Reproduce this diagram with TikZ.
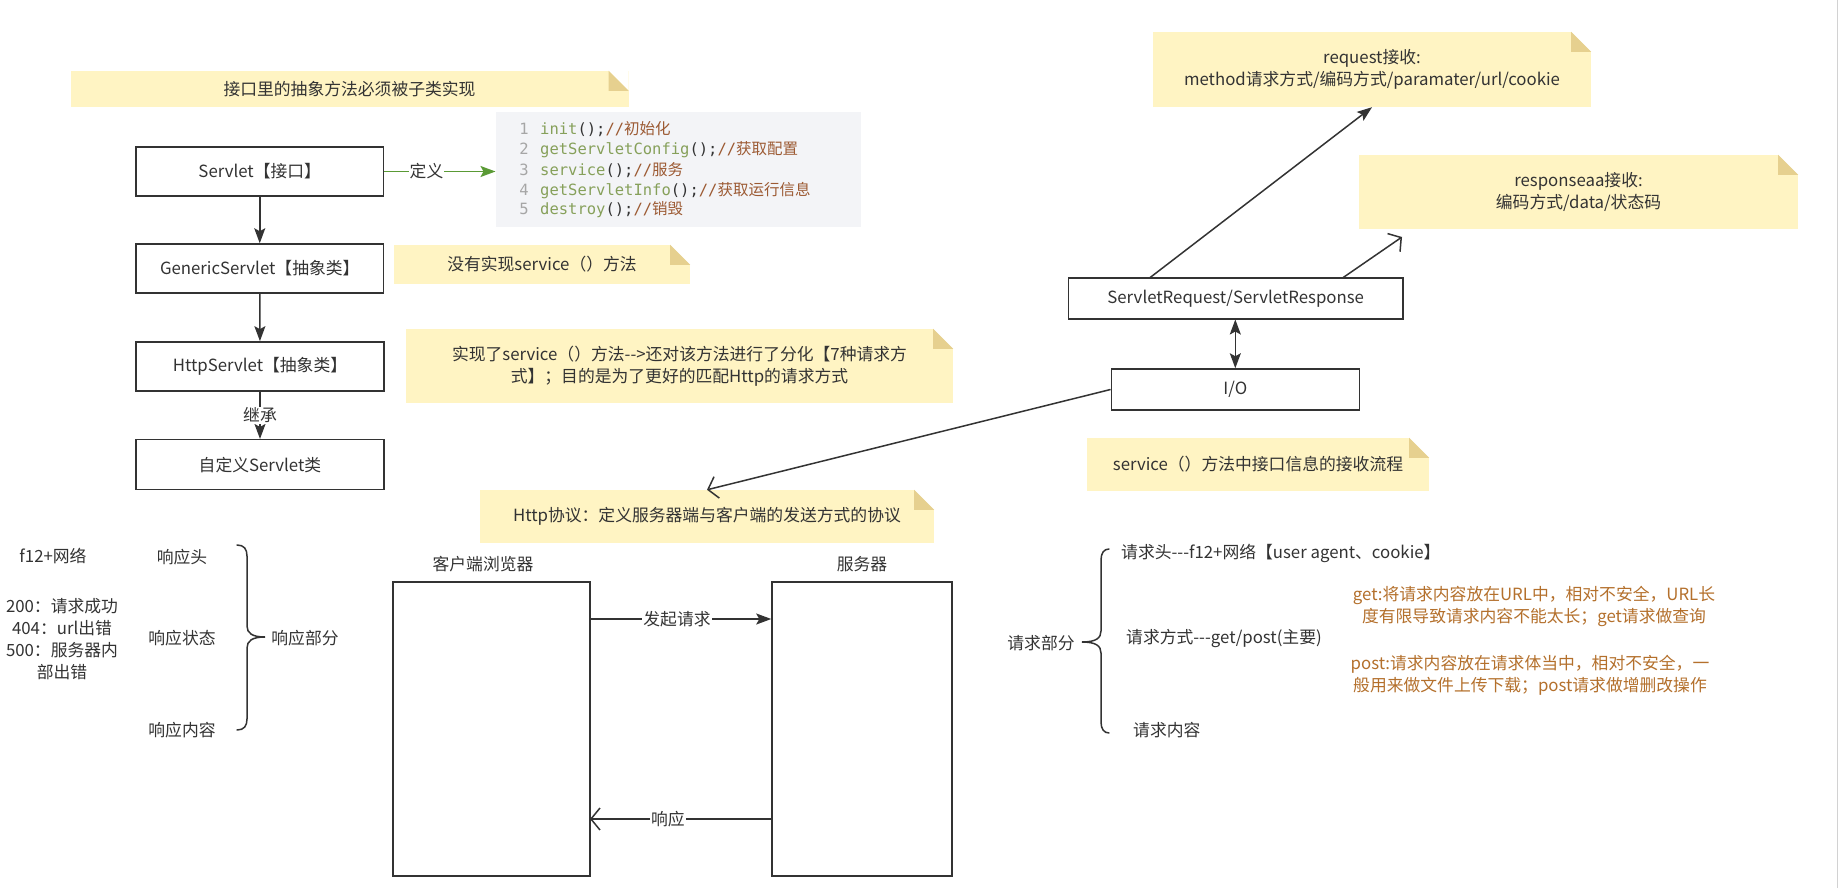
\documentclass[tikz,border=0pt]{standalone}
\usepackage{fontspec}
\setmainfont{Noto Sans CJK SC}
\newfontfamily\codefont{DejaVu Sans Mono}
\usetikzlibrary{arrows.meta,calc}
\definecolor{txt}{HTML}{333333}
\definecolor{notey}{HTML}{FFF4C3}
\definecolor{foldc}{HTML}{E6D08F}
\definecolor{defg}{HTML}{5A9A35}
\definecolor{codebg}{HTML}{F3F4F7}
\definecolor{codeg}{HTML}{86A05A}
\definecolor{codeb}{HTML}{9C5A33}
\definecolor{codek}{HTML}{333333}
\definecolor{lnum}{HTML}{A6A6A6}
\definecolor{orng}{HTML}{B4702C}
\newcommand\mycodeln[2]{{\codefont\color{codeg}#1\color{codek}();\color{codeb}//}{\color{codeb}#2}}
\newcommand\mydash{-\kern0pt}
\newcommand\myfold[1]{%
  \fill[white] ($(#1.north east)+(-20,0)$) -- (#1.north east) -- ($(#1.north east)+(0,20)$) -- cycle;
  \fill[foldc] ($(#1.north east)+(-20,0)$) -- ($(#1.north east)+(-20,20)$) -- ($(#1.north east)+(0,20)$) -- cycle;}
\tikzset{
  base/.style={font=\fontsize{16.8}{22}\selectfont, text=txt, inner sep=0pt},
  box/.style={base, draw=txt, line width=1.5pt, fill=white},
  note/.style={base, fill=notey, align=center},
  lbl/.style={base, fill=white, inner sep=1pt},
  arr/.style={draw=txt, line width=1.5pt, -{Stealth[length=15pt,width=11pt,inset=3pt]}},
  darr/.style={draw=txt, line width=1.5pt, {Stealth[length=15pt,width=11pt,inset=3pt]}-{Stealth[length=15pt,width=11pt,inset=3pt]}},
  oarr/.style={draw=txt, line width=1.5pt, -{Straight Barb[length=9pt,width=22pt]}},
  garr/.style={draw=defg, line width=1.5pt, -{Stealth[length=15pt,width=11pt,inset=3pt]}},
  lnumst/.style={base, anchor=base east, text=lnum, font=\codefont\fontsize{15.5}{18}\selectfont},
  codest/.style={base, anchor=base west, font=\fontsize{15.5}{18}\selectfont},
  brace/.style={draw=txt, line width=1.5pt, line cap=round}
}
\begin{document}
\begin{tikzpicture}[x=1pt,y=-1pt]
\useasboundingbox (0,0) rectangle (1838,888);
\fill[white] (0,0) rectangle (1838,888);
\draw[gray!35, line width=1pt] (1837.5,0) -- (1837.5,888);

% notes
\node[note, minimum width=558, minimum height=36] (na) at (349.5,89) {接口里的抽象方法必须被子类实现};
\myfold{na}
\node[note, minimum width=296, minimum height=39] (nb) at (542,264.5) {没有实现service（）方法};
\myfold{nb}
\node[note, minimum width=547, minimum height=74] (nc) at (679.5,366) {实现了service（）方法\mydash\mydash>还对该方法进行了分化【7种请求方\\式】；目的是为了更好的匹配Http的请求方式};
\myfold{nc}
\node[note, minimum width=454, minimum height=53] (nd) at (707,516.5) {Http协议：定义服务器端与客户端的发送方式的协议};
\myfold{nd}
\node[note, minimum width=438, minimum height=75] (ne) at (1372,69.5) {request接收:\\method请求方式/编码方式/paramater/url/cookie};
\myfold{ne}
\node[note, minimum width=439, minimum height=74] (nf) at (1578.5,192) {responseaa接收:\\编码方式/data/状态码};
\myfold{nf}
\node[note, minimum width=342, minimum height=53] (ng) at (1258,464.5) {service（）方法中接口信息的接收流程};
\myfold{ng}

% left class chain
\node[box, minimum width=247.5, minimum height=49] (servlet) at (259.75,171.5) {Servlet【接口】};
\node[box, minimum width=247.5, minimum height=49] (generic) at (259.75,268.5) {GenericServlet【抽象类】};
\node[box, minimum width=248, minimum height=49] (http) at (260,366.4) {HttpServlet【抽象类】};
\node[box, minimum width=248, minimum height=50] (custom) at (260,464.7) {自定义Servlet类};
\draw[arr] (servlet) -- (generic);
\draw[arr] (generic) -- (http);
\draw[arr] (http) -- (custom) node[lbl, midway] {继承};

% code block
\node[fill=codebg, minimum width=365.3, minimum height=114.7, inner sep=0pt] (code) at (678.35,169.35) {};
\node[lnumst] (l1) at (529,134.5) {1};
\node[lnumst] (l2) at (529,154.8) {2};
\node[lnumst] (l3) at (529,175.5) {3};
\node[lnumst] (l4) at (529,195.5) {4};
\node[lnumst] (l5) at (529,214.8) {5};
\node[codest] (c1) at (540,134.5) {\mycodeln{init}{初始化}};
\node[codest] (c2) at (540,154.8) {\mycodeln{getServletConfig}{获取配置}};
\node[codest] (c3) at (540,175.5) {\mycodeln{service}{服务}};
\node[codest] (c4) at (540,195.5) {\mycodeln{getServletInfo}{获取运行信息}};
\node[codest] (c5) at (540,214.8) {\mycodeln{destroy}{销毁}};
\draw[garr] (servlet.east) -- (servlet.east -| code.west) node[lbl, pos=0.38] {定义};

% right: request/response
\node[box, minimum width=334.2, minimum height=40.7] (sr) at (1235.7,298.4) {ServletRequest/ServletResponse};
\node[box, minimum width=248, minimum height=41] (io) at (1235.3,389.5) {I/O};
\draw[darr] (sr.south -| io.north) -- (io.north);
\coordinate (reqs) at (1149.5,278);
\coordinate (resps) at (1342.5,278);
\coordinate (respe) at (1402,237);
\draw[arr] (reqs) -- (ne.south);
\draw[oarr] (resps) -- (respe);
\draw[oarr] (io.west) -- (nd.north);

% client / server
\node[box, minimum width=197, minimum height=294] (client) at (491.5,729) {};
\node[box, minimum width=180, minimum height=294] (server) at (862,729) {};
\node[base] (clientl) at (483,564) {客户端浏览器};
\node[base] (serverl) at (862,564) {服务器};
\coordinate (q1) at (590,619);
\coordinate (q2) at (590,819);
\draw[arr] (q1) -- (q1 -| server.west) node[lbl, pos=0.48] {发起请求};
\draw[oarr] (q2 -| server.west) -- (q2) node[lbl, pos=0.57] {响应};

% response part (left)
\node[base] (f12) at (53,556) {f12+网络};
\node[base, align=center] (codes) at (62,639.5) {200：请求成功\\404：url出错\\500：服务器内\\部出错};
\node[base] (rh) at (182,557) {响应头};
\node[base] (rs) at (182,638) {响应状态};
\node[base] (rc) at (182,730) {响应内容};
\node[base] (rp) at (305,638) {响应部分};
\draw[brace] (237,545) .. controls (244,545) and (247,549) .. (247,556) -- (247,626) .. controls (247,633) and (252,637) .. (265,637) .. controls (252,637) and (247,641) .. (247,648) -- (247,719) .. controls (247,726) and (244,730) .. (237,730);

% request part (right)
\node[base] (qp) at (1041,643) {请求部分};
\draw[brace] (1109,549) .. controls (1104,549) and (1101,553) .. (1101,560) -- (1101,631) .. controls (1101,638) and (1096,642) .. (1082,642) .. controls (1096,642) and (1101,646) .. (1101,653) -- (1101,722) .. controls (1101,729) and (1104,733) .. (1109,733);
\node[base, anchor=west] (qh) at (1121,553) {请求头\mydash\mydash\mydash f12+网络【user agent、cookie】};
\node[base, anchor=west] (qm) at (1126,638) {请求方式\mydash\mydash\mydash get/post(主要)};
\node[base, anchor=west] (qc) at (1133,730) {请求内容};
\node[base, text=orng, align=center] (qget) at (1534,606) {get:将请求内容放在URL中，相对不安全，URL长\\度有限导致请求内容不能太长；get请求做查询};
\node[base, text=orng, align=center] (qpost) at (1530,675) {post:请求内容放在请求体当中，相对不安全，一\\般用来做文件上传下载；post请求做增删改操作};
\end{tikzpicture}
\end{document}
